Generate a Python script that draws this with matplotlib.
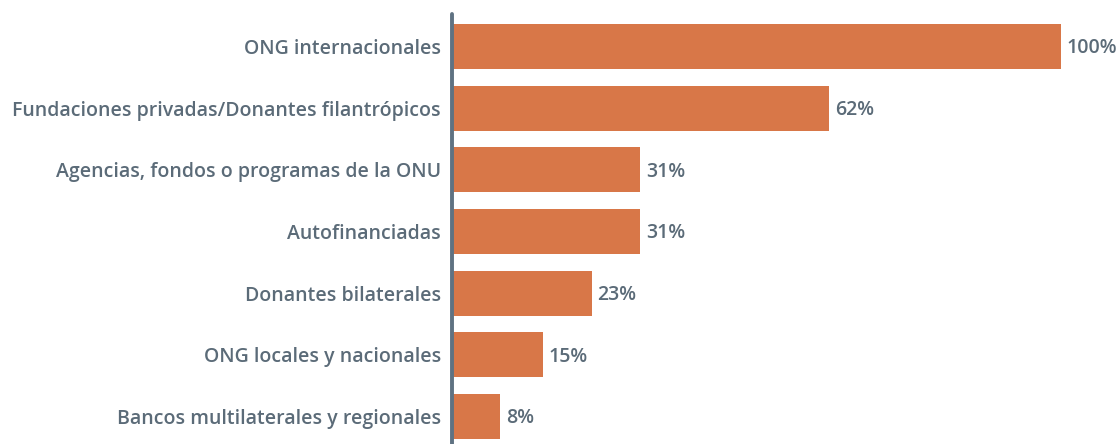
import matplotlib
matplotlib.use("Agg")
import matplotlib.pyplot as plt

# === Dados ===
categorias = [
    "ONG internacionales",
    "Fundaciones privadas/Donantes filantrópicos",
    "Agencias, fondos o programas de la ONU",
    "Autofinanciadas",
    "Donantes bilaterales",
    "ONG locales y nacionales",
    "Bancos multilaterales y regionales",
]
valores = [100, 62, 31, 31, 23, 15, 8]
rotulos = ["100%", "62%", "31%", "31%", "23%", "15%", "8%"]

cor_barra = "#d87748"
cor_texto = "#5b6b78"
cor_eixo = "#5f7282"

plt.rcParams["font.family"] = ["Open Sans", "DejaVu Sans"]

fig = plt.figure(figsize=(11.18, 4.44), dpi=100)
W, H = 1118, 444
ax = fig.add_axes([451.5 / W, 0, 1 - 451.5 / W, 1 - 14 / H])

y = list(range(len(categorias)))
ax.barh(y, valores, height=0.73, color=cor_barra)

for yi, v, r in zip(y, valores, rotulos):
    ax.annotate(r, (v, yi + 0.03), xytext=(4, 0), textcoords="offset points",
                va="center", ha="left", fontsize=14, fontweight="semibold",
                color=cor_texto)

ax.set_xlim(0, 109.35)
ax.set_ylim(6.446, -0.527)
ax.set_yticks(y)
ax.set_yticklabels(categorias, fontsize=14, fontweight="semibold", color=cor_texto)
ax.tick_params(axis="y", length=0, pad=7.5)
ax.set_xticks([])

for s in ["top", "right", "bottom"]:
    ax.spines[s].set_visible(False)
ax.spines["left"].set_color(cor_eixo)
ax.spines["left"].set_linewidth(2.8)
ax.spines["left"].set_capstyle("round")
ax.spines["left"].set_zorder(5)

fig.savefig("out.png", dpi=100)
